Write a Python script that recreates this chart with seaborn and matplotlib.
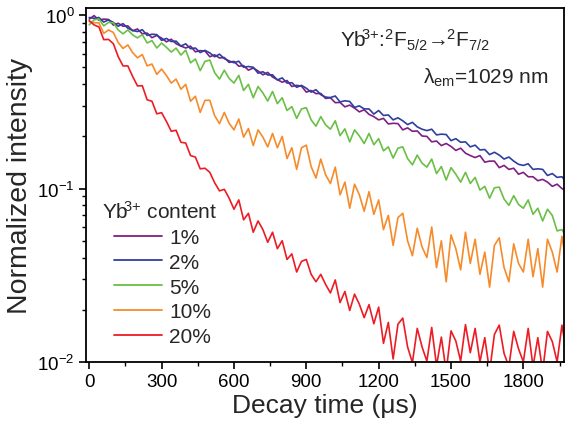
import numpy as np
import pandas as pd
import matplotlib
matplotlib.use("Agg")
import matplotlib.pyplot as plt
import seaborn as sns
from matplotlib.ticker import NullFormatter

# sampling grid of the decay traces (µs), one point every 20 µs
decay_time = np.arange(0, 2000, 20)

contents = ["1%", "2%", "5%", "10%", "20%"]

# normalized intensity, rows = 200 µs each
yb_1 = [
    0.95, 0.995, 0.936, 0.95, 0.945, 0.877, 0.899, 0.864, 0.868, 0.813,
    0.833, 0.781, 0.789, 0.742, 0.765, 0.738, 0.702, 0.727, 0.685, 0.664,
    0.647, 0.663, 0.615, 0.625, 0.621, 0.576, 0.591, 0.567, 0.570, 0.534,
    0.542, 0.508, 0.512, 0.482, 0.496, 0.477, 0.453, 0.468, 0.44, 0.425,
    0.411, 0.42, 0.388, 0.394, 0.39, 0.36, 0.368, 0.353, 0.354, 0.331,
    0.334, 0.313, 0.314, 0.296, 0.303, 0.291, 0.277, 0.285, 0.268, 0.26,
    0.249, 0.254, 0.236, 0.238, 0.237, 0.218, 0.224, 0.214, 0.215, 0.201,
    0.2, 0.186, 0.188, 0.177, 0.182, 0.175, 0.166, 0.171, 0.16, 0.155,
    0.151, 0.155, 0.142, 0.144, 0.144, 0.132, 0.136, 0.129, 0.131, 0.121,
    0.124, 0.117, 0.117, 0.111, 0.113, 0.109, 0.103, 0.106, 0.1, 0.097,
]
yb_2 = [
    0.97, 0.96, 0.97, 0.913, 0.94, 0.909, 0.864, 0.894, 0.842, 0.817,
    0.805, 0.825, 0.765, 0.777, 0.773, 0.716, 0.735, 0.705, 0.709, 0.664,
    0.684, 0.641, 0.647, 0.609, 0.627, 0.606, 0.576, 0.596, 0.562, 0.545,
    0.532, 0.543, 0.501, 0.506, 0.501, 0.463, 0.472, 0.452, 0.453, 0.423,
    0.435, 0.406, 0.408, 0.384, 0.394, 0.379, 0.36, 0.372, 0.348, 0.337,
    0.335, 0.342, 0.316, 0.321, 0.318, 0.294, 0.3, 0.288, 0.288, 0.269,
    0.282, 0.264, 0.266, 0.249, 0.256, 0.246, 0.234, 0.241, 0.227, 0.22,
    0.216, 0.22, 0.204, 0.206, 0.205, 0.189, 0.194, 0.185, 0.186, 0.174,
    0.178, 0.167, 0.168, 0.157, 0.162, 0.156, 0.148, 0.152, 0.144, 0.138,
    0.136, 0.139, 0.129, 0.13, 0.129, 0.119, 0.122, 0.116, 0.117, 0.109,
]
yb_5 = [
    0.88, 0.941, 0.951, 0.868, 0.909, 0.904, 0.822, 0.781, 0.822, 0.77,
    0.74, 0.773, 0.692, 0.714, 0.647, 0.691, 0.653, 0.613, 0.646, 0.589,
    0.629, 0.531, 0.559, 0.479, 0.542, 0.551, 0.466, 0.428, 0.482, 0.432,
    0.406, 0.45, 0.368, 0.399, 0.334, 0.388, 0.356, 0.32, 0.363, 0.309,
    0.334, 0.282, 0.297, 0.254, 0.288, 0.293, 0.249, 0.229, 0.26, 0.233,
    0.22, 0.246, 0.202, 0.221, 0.186, 0.218, 0.201, 0.182, 0.208, 0.179,
    0.194, 0.165, 0.174, 0.15, 0.171, 0.174, 0.149, 0.137, 0.156, 0.14,
    0.133, 0.148, 0.122, 0.134, 0.112, 0.132, 0.121, 0.109, 0.124, 0.107,
    0.116, 0.098, 0.103, 0.088, 0.101, 0.102, 0.087, 0.08, 0.091, 0.081,
    0.077, 0.086, 0.071, 0.077, 0.065, 0.076, 0.07, 0.057, 0.058, 0.052,
]
yb_10 = [
    0.92, 0.906, 0.904, 0.786, 0.822, 0.795, 0.696, 0.643, 0.674, 0.608,
    0.568, 0.593, 0.51, 0.523, 0.456, 0.489, 0.449, 0.406, 0.428, 0.374,
    0.399, 0.319, 0.341, 0.275, 0.323, 0.323, 0.263, 0.237, 0.275, 0.238,
    0.218, 0.252, 0.198, 0.222, 0.177, 0.218, 0.198, 0.174, 0.208, 0.172,
    0.2, 0.149, 0.172, 0.129, 0.172, 0.178, 0.134, 0.115, 0.148, 0.12,
    0.107, 0.133, 0.092, 0.109, 0.077, 0.106, 0.092, 0.074, 0.096, 0.071,
    0.086, 0.058, 0.07, 0.047, 0.068, 0.072, 0.05, 0.041, 0.059, 0.046,
    0.04, 0.06, 0.035, 0.05, 0.029, 0.054, 0.045, 0.034, 0.056, 0.037,
    0.051, 0.032, 0.043, 0.027, 0.047, 0.052, 0.035, 0.029, 0.048, 0.037,
    0.033, 0.051, 0.031, 0.045, 0.027, 0.051, 0.043, 0.033, 0.053, 0.036,
]
yb_20 = [
    0.93, 0.879, 0.856, 0.723, 0.725, 0.685, 0.577, 0.51, 0.51, 0.443,
    0.391, 0.392, 0.325, 0.319, 0.27, 0.274, 0.244, 0.214, 0.217, 0.185,
    0.183, 0.155, 0.152, 0.13, 0.131, 0.124, 0.108, 0.097, 0.099, 0.088,
    0.076, 0.086, 0.066, 0.072, 0.056, 0.065, 0.058, 0.049, 0.056, 0.045,
    0.05, 0.039, 0.042, 0.033, 0.038, 0.039, 0.032, 0.029, 0.032, 0.028,
    0.025, 0.0297, 0.022, 0.0255, 0.0198, 0.0246, 0.0215, 0.018, 0.0214, 0.0166,
    0.0207, 0.0128, 0.0169, 0.0104, 0.0165, 0.0179, 0.0122, 0.0099, 0.0156, 0.0122,
    0.0101, 0.0158, 0.0095, 0.0139, 0.0088, 0.0151, 0.0132, 0.0101, 0.0164, 0.0113,
    0.0156, 0.01, 0.0138, 0.0088, 0.0144, 0.0163, 0.0112, 0.0094, 0.015, 0.0119,
    0.01, 0.0156, 0.0094, 0.0138, 0.0088, 0.015, 0.0131, 0.01, 0.0163, 0.0112,
]

colors = {"1%": "#7f1f86", "2%": "#2e3f9e", "5%": "#6abf45",
          "10%": "#f68b2a", "20%": "#ed1c24"}

df = pd.concat([
    pd.DataFrame({"time": decay_time, "intensity": vals, "content": name})
    for name, vals in zip(contents, [yb_1, yb_2, yb_5, yb_10, yb_20])
])

sns.set_style("ticks")
plt.rcParams["font.family"] = ["Liberation Sans", "DejaVu Sans"]
plt.rcParams["mathtext.fontset"] = "custom"
plt.rcParams["mathtext.rm"] = "Liberation Sans"
plt.rcParams["mathtext.it"] = "Liberation Sans:italic"
plt.rcParams["axes.unicode_minus"] = False

fig = plt.figure(figsize=(5.65, 4.31), dpi=100)
ax = fig.add_axes([0.152, 0.158, 0.846, 0.821])

sns.lineplot(data=df, x="time", y="intensity", hue="content", hue_order=contents,
             palette=colors, estimator=None, sort=False, lw=1.2, ax=ax)

ax.set_yscale("log")
ax.set_ylim(0.01, 1.1)
ax.set_xlim(-14, 1968)
ax.set_xticks(range(0, 1801, 300))
ax.set_xticks(range(150, 1951, 300), minor=True)
ax.yaxis.set_minor_formatter(NullFormatter())

for s in ax.spines.values():
    s.set_linewidth(1.3)
    s.set_color("black")
ax.tick_params(which="major", direction="out", length=5, width=1.2,
               labelsize=13.5, colors="black", pad=3)
ax.tick_params(which="minor", direction="out", length=3, width=1.0, colors="black")

ax.set_xlabel("Decay time (μs)", fontsize=19, labelpad=2)
ax.set_ylabel("Normalized intensity", fontsize=20.5, labelpad=3)

yb = r"$\mathrm{Yb}^{\!\!3{+}}$"
ax.text(0.532, 0.912,
        yb + r":$^{2}\mathrm{F}_{5/2}$→$^{\!2}\mathrm{F}_{7/2}$",
        transform=ax.transAxes, fontsize=15, ha="left", va="center")
ax.text(0.969, 0.805, r"λ$_{\mathrm{em}}$=1029 nm",
        transform=ax.transAxes, fontsize=15, ha="right", va="center")

old = ax.get_legend()
handles = old.legend_handles
labels = [t.get_text() for t in old.get_texts()]
old.remove()
leg = ax.legend(handles, labels, loc="lower left",
                bbox_to_anchor=(0.037, 0.015), frameon=False, fontsize=15,
                handlelength=2.3, handletextpad=0.35,
                labelspacing=0.28, borderpad=0)
for h in leg.legend_handles:
    h.set_linewidth(1.3)
ax.text(0.034, 0.427, yb + " content", transform=ax.transAxes,
        fontsize=15, ha="left", va="center")

fig.savefig("out.png", dpi=100)
